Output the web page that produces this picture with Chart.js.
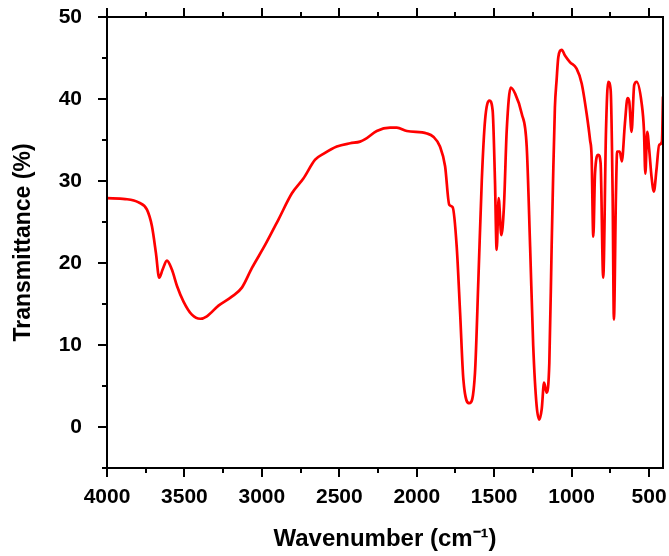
<!DOCTYPE html>
<html>
<head>
<meta charset="utf-8">
<script src="https://cdn.jsdelivr.net/npm/chart.js@4"></script>
<style>
  html, body { margin: 0; padding: 0; background: #fff; }
  #wrap { position: relative; width: 669px; height: 556px; }
</style>
</head>
<body>
<div id="wrap"><canvas id="ftir"></canvas></div>
<script>
// FTIR spectrum
const wavenumber = [
  4000, 3882, 3796, 3742, 3710, 3684, 3663, 3641, 3613, 3581,
  3548, 3506, 3452, 3398, 3355, 3280, 3194, 3129, 3064, 2979,
  2893, 2806, 2732, 2656, 2603, 2516, 2430, 2366, 2333, 2258,
  2172, 2129, 2064, 1935, 1893, 1850, 1817, 1790, 1768, 1742,
  1720, 1699, 1660, 1624, 1602, 1580, 1559, 1531, 1510, 1495,
  1484, 1471, 1454, 1437, 1419, 1393, 1366, 1322, 1290, 1268,
  1248, 1226, 1209, 1193, 1178, 1161, 1144, 1129, 1120, 1108,
  1097, 1086, 1064, 1043, 1011, 968, 935, 903, 881, 871,
  860, 849, 828, 813, 796, 778, 764, 748, 735, 727,
  714, 706, 689, 676, 656, 639, 628, 613, 596, 580,
  548, 533, 524, 512, 499, 484, 469, 452, 435, 417,
  410
];
const transmittance = [
  27.9, 27.8, 27.4, 26.5, 24.5, 21.2, 18.2, 19.2, 20.3, 19.2,
  17.2, 15.3, 13.7, 13.2, 13.5, 14.8, 15.9, 17.0, 19.4, 22.2,
  25.3, 28.5, 30.3, 32.6, 33.3, 34.2, 34.6, 34.8, 35.1, 36.1,
  36.5, 36.5, 36.1, 35.8, 35.4, 34.2, 31.8, 27.1, 26.8, 22.0,
  13.9, 5.8, 2.9, 6.6, 18.0, 30.1, 37.4, 39.8, 38.6, 30.1,
  21.6, 27.9, 23.4, 26.9, 36.2, 41.4, 40.7, 38.2, 34.2, 22.0,
  9.9, 2.6, 0.9, 2.2, 5.4, 4.2, 7.8, 22.0, 30.0, 39.0,
  42.3, 45.1, 46.0, 45.3, 44.5, 43.7, 41.9, 38.2, 35.0, 33.0,
  23.2, 30.9, 33.2, 32.2, 18.2, 36.2, 42.1, 41.1, 28.1, 13.1,
  28.1, 33.6, 33.6, 32.4, 37.0, 40.1, 39.7, 36.0, 41.7, 42.1,
  39.5, 36.2, 30.9, 36.0, 33.8, 30.5, 28.7, 31.4, 34.4, 34.8,
  40.3
];

const xTicks = [4000, 3500, 3000, 2500, 2000, 1500, 1000, 500];
const xMinor = [3750, 3250, 2750, 2250, 1750, 1250, 750];
const yTicks = [0, 10, 20, 30, 40, 50];
const yMinor = [-5, 5, 15, 25, 35, 45];

const fontFamily = "'Liberation Sans', Arial, sans-serif";

// box round the plot, with outward tick marks on left, bottom and top
const frame = {
  id: 'frame',
  afterDraw(chart) {
    const { ctx, chartArea: a, scales: { x, y } } = chart;
    ctx.save();
    ctx.strokeStyle = '#000';
    ctx.lineWidth = 2;
    ctx.strokeRect(a.left, a.top, a.right - a.left, a.bottom - a.top);
    ctx.beginPath();
    const xMark = (v, len) => {
      const px = Math.round(x.getPixelForValue(v));
      ctx.moveTo(px, a.bottom); ctx.lineTo(px, a.bottom + len);
      ctx.moveTo(px, a.top); ctx.lineTo(px, a.top - len);
    };
    const yMark = (v, len) => {
      const py = Math.round(y.getPixelForValue(v));
      ctx.moveTo(a.left, py); ctx.lineTo(a.left - len, py);
    };
    xTicks.forEach(v => xMark(v, 9));
    xMinor.forEach(v => xMark(v, 5));
    yTicks.forEach(v => yMark(v, 9));
    yMinor.forEach(v => yMark(v, 5));
    ctx.stroke();
    ctx.restore();
  }
};

new Chart(document.getElementById('ftir'), {
  type: 'line',
  data: {
    datasets: [{
      data: wavenumber.map((w, i) => ({ x: w, y: transmittance[i] })),
      borderColor: '#ff0000',
      borderWidth: 2.7,
      pointRadius: 0,
      cubicInterpolationMode: 'monotone',
      fill: false
    }]
  },
  options: {
    responsive: true,
    maintainAspectRatio: false,
    animation: false,
    events: [],
    layout: { padding: { top: 17, right: 6, left: 0, bottom: 0 } },
    plugins: { legend: { display: false }, tooltip: { enabled: false } },
    scales: {
      x: {
        type: 'linear',
        reverse: true,
        min: 410,
        max: 4000,
        grid: { display: false, drawTicks: false },
        border: { display: false },
        afterBuildTicks: s => { s.ticks = xTicks.map(v => ({ value: v })); },
        afterFit: s => { s.height = 88; s.paddingLeft = 0; s.paddingRight = 0; },
        ticks: {
          color: '#000',
          padding: 17,
          maxRotation: 0,
          autoSkip: false,
          callback: v => String(v),
          font: { family: fontFamily, size: 21, weight: 'bold' }
        },
        title: {
          display: true,
          text: 'Wavenumber (cm\u207B\u00B9)',
          color: '#000',
          padding: { top: 0, bottom: 2 },
          font: { family: fontFamily, size: 24, weight: 'bold' }
        }
      },
      y: {
        min: -5,
        max: 50,
        grid: { display: false, drawTicks: false },
        border: { display: false },
        afterBuildTicks: s => { s.ticks = yTicks.map(v => ({ value: v })); },
        afterFit: s => { s.width = 107; s.paddingTop = 0; s.paddingBottom = 0; },
        ticks: {
          color: '#000',
          padding: 25,
          callback: v => String(v),
          font: { family: fontFamily, size: 21, weight: 'bold' }
        },
        title: {
          display: true,
          text: 'Transmittance (%)',
          color: '#000',
          padding: { top: 10, bottom: 0 },
          font: { family: fontFamily, size: 23, weight: 'bold' }
        }
      }
    }
  },
  plugins: [frame]
});
</script>
</body>
</html>
